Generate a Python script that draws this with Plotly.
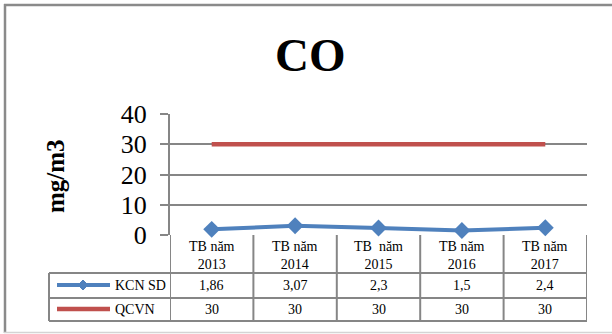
import plotly.graph_objects as go

# ---- data ----
categories = ["TB năm 2013", "TB năm 2014", "TB  năm 2015", "TB năm 2016", "TB năm 2017"]
kcn_sd = [1.86, 3.07, 2.3, 1.5, 2.4]
qcvn = [30, 30, 30, 30, 30]
y_ticks = [0, 10, 20, 30, 40]
series_names = ["KCN SD", "QCVN"]
chart_title = "CO"
y_title = "mg/m3"

# ---- styling ----
W, H = 612, 334
BLUE = "#4F81BD"
RED = "#C0504D"
GRID = "#868686"
FONT = "Liberation Serif"
BOLD_FONT = "Times New Roman"


def px(x):
    return x / W


def py(y):
    return 1 - y / H


def fmt(v):
    return str(v).replace(".", ",")


xs = list(range(len(categories)))

fig = go.Figure()
fig.add_trace(go.Scatter(x=xs, y=qcvn, mode="lines", name=series_names[1],
                         line=dict(color=RED, width=4.5), cliponaxis=False,
                         showlegend=False))
fig.add_trace(go.Scatter(x=xs, y=kcn_sd, mode="lines+markers", name=series_names[0],
                         line=dict(color=BLUE, width=4),
                         marker=dict(symbol="diamond", size=13, color=BLUE),
                         cliponaxis=False, showlegend=False))

shapes = []
line_style = dict(color=GRID, width=2)
# table horizontal lines
for yy in (273, 298, 321):
    shapes.append(dict(type="line", xref="paper", yref="paper",
                       x0=px(49), x1=px(587), y0=py(yy), y1=py(yy), line=line_style))
# left border of legend column
shapes.append(dict(type="line", xref="paper", yref="paper",
                   x0=px(49), x1=px(49), y0=py(273), y1=py(321), line=line_style))
# column boundaries (in data coordinates)
for i in range(len(categories) + 1):
    shapes.append(dict(type="line", xref="x", yref="paper",
                       x0=i - 0.5, x1=i - 0.5, y0=py(235), y1=py(321), line=line_style))
# legend glyphs
shapes.append(dict(type="line", xref="paper", yref="paper",
                   x0=px(57), x1=px(110), y0=py(285), y1=py(285),
                   line=dict(color=BLUE, width=4)))
cx, cy, r = 83, 285, 5
shapes.append(dict(type="path", xref="paper", yref="paper",
                   path=f"M {px(cx - r)} {py(cy)} L {px(cx)} {py(cy - r)} L {px(cx + r)} {py(cy)} L {px(cx)} {py(cy + r)} Z",
                   fillcolor=BLUE, line=dict(color=BLUE, width=1)))
shapes.append(dict(type="line", xref="paper", yref="paper",
                   x0=px(57), x1=px(110), y0=py(309), y1=py(309),
                   line=dict(color=RED, width=4.5)))
# outer frame
shapes.append(dict(type="line", xref="paper", yref="paper",
                   x0=px(4), x1=1, y0=py(5), y1=py(5), line=dict(color="#8a8a8a", width=2.5)))
shapes.append(dict(type="line", xref="paper", yref="paper",
                   x0=px(5), x1=px(5), y0=py(4), y1=py(333), line=dict(color="#8a8a8a", width=2.5)))
shapes.append(dict(type="line", xref="paper", yref="paper",
                   x0=px(4), x1=1, y0=py(332.5), y1=py(332.5), line=dict(color="#d4d4d4", width=1.5)))

annotations = []
tf = dict(family=FONT, size=14, color="black")
for i, cat in enumerate(categories):
    a, b = cat.rsplit(" ", 1)
    a = a.replace("  ", "\u00a0 ")
    annotations.append(dict(x=i, xref="x", y=py(255), yref="paper",
                            text=f"{a}<br>{b}", showarrow=False, font=tf,
                            xanchor="center", yanchor="middle"))
    annotations.append(dict(x=i, xref="x", y=py(285.5), yref="paper",
                            text=fmt(kcn_sd[i]), showarrow=False, font=tf,
                            xanchor="center", yanchor="middle"))
    annotations.append(dict(x=i, xref="x", y=py(309.5), yref="paper",
                            text=fmt(qcvn[i]), showarrow=False, font=tf,
                            xanchor="center", yanchor="middle"))
for name, yy in zip(series_names, (285.5, 309.5)):
    annotations.append(dict(x=px(113), xref="paper", y=py(yy), yref="paper",
                            text=name, showarrow=False, font=tf,
                            xanchor="left", yanchor="middle"))
annotations.append(dict(x=px(310), xref="paper", y=py(55), yref="paper",
                        text=f"<b>{chart_title}</b>", showarrow=False,
                        font=dict(family=BOLD_FONT, size=47, color="black"),
                        xanchor="center", yanchor="middle"))
annotations.append(dict(x=px(55), xref="paper", y=py(176), yref="paper",
                        text=f"<b>{y_title}</b>", showarrow=False, textangle=-90,
                        font=dict(family=BOLD_FONT, size=25, color="black"),
                        xanchor="center", yanchor="middle"))

fig.update_layout(
    width=W, height=H, autosize=False,
    margin=dict(l=0, r=0, t=0, b=0, pad=0),
    paper_bgcolor="white", plot_bgcolor="white",
    showlegend=False,
    xaxis=dict(domain=[px(170), px(587)], range=[-0.5, len(categories) - 0.5],
               showgrid=False, zeroline=False, showticklabels=False, showline=False,
               ticks="", automargin=False),
    yaxis=dict(domain=[py(235), py(114)], range=[0, 40], tickvals=y_ticks,
               showgrid=True, gridcolor=GRID, gridwidth=2,
               showline=True, linecolor=GRID, linewidth=2,
               ticks="outside", ticklen=8, tickcolor=GRID, tickwidth=2,
               zeroline=False, ticklabelstandoff=8, automargin=False,
               tickfont=dict(family=FONT, size=26, color="black")),
    shapes=shapes,
    annotations=annotations,
)

fig.write_html("out.html", config={"displayModeBar": False},
               post_script="document.body.style.margin='0px';")
